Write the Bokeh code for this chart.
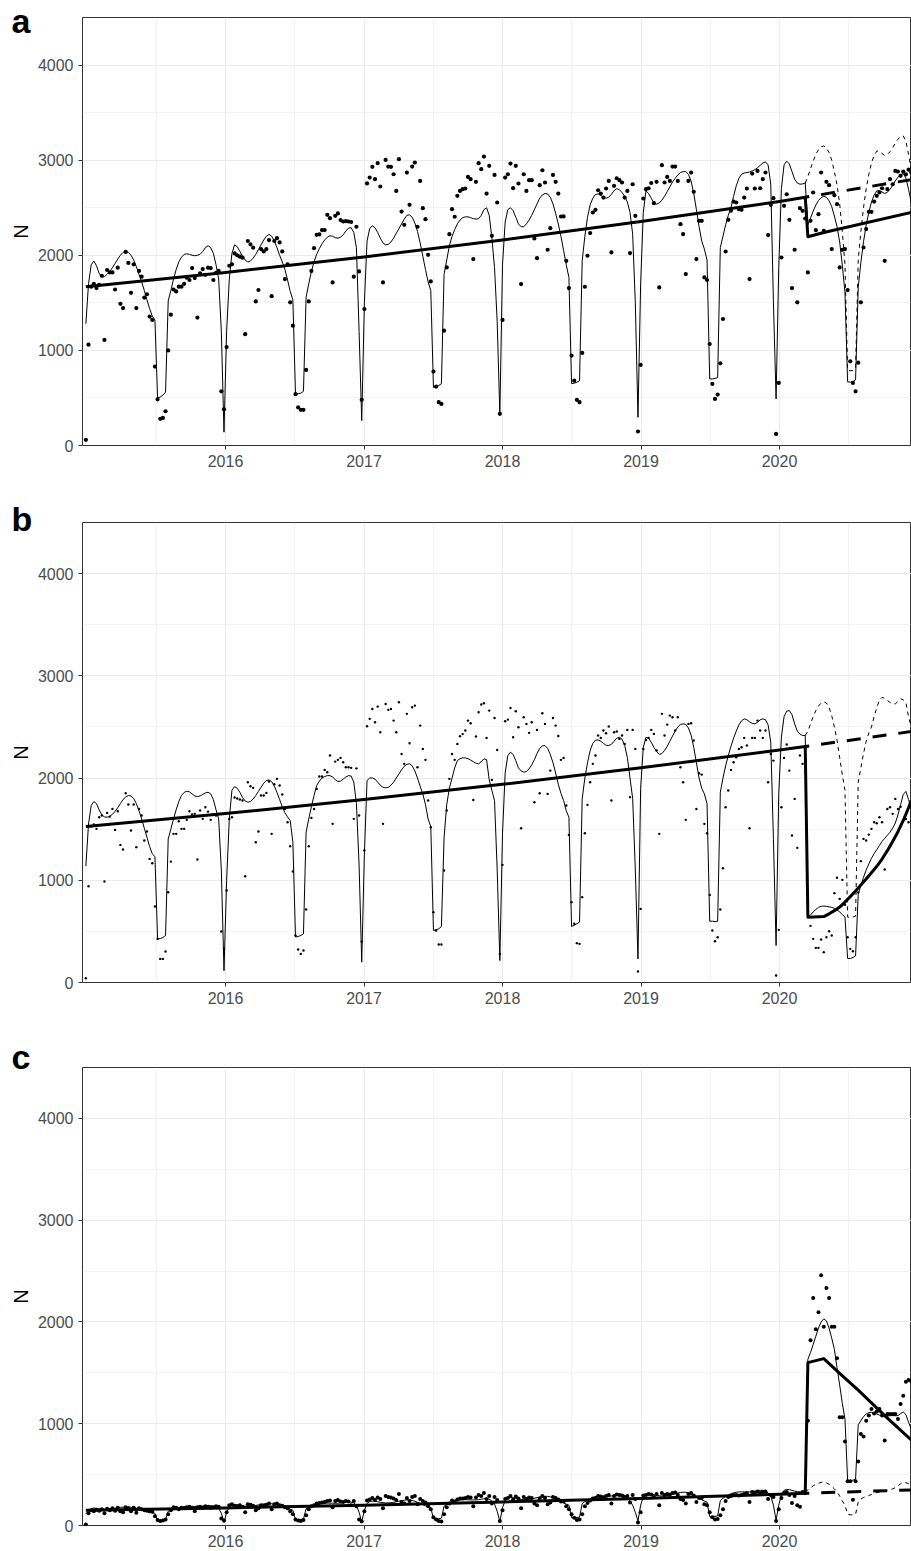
import numpy as np
import pandas as pd
from bokeh.plotting import figure
from bokeh.models import Range1d, FixedTicker, NumeralTickFormatter
from bokeh.layouts import column
from bokeh.embed import file_html
from bokeh.resources import INLINE

# ---------------- data ----------------
week_start = "2014-12-29"
n_weeks = 312
year_ticks = [2016, 2017, 2018, 2019, 2020]
year_minor = [2015.5, 2016.5, 2017.5, 2018.5, 2019.5, 2020.5]
n_ticks = [0, 1000, 2000, 3000, 4000]
n_minor = [500, 1500, 2500, 3500, 4500]

trend_pre_dates = ["2014-12-29", "2016-01-01", "2017-01-01", "2018-01-01",
                   "2019-01-01", "2020-01-01", "2020-03-09"]
a_post_dates = ["2020-03-16", "2020-04-27", "2020-12-14"]
b_post_dates = ["2020-03-16", "2020-04-27", "2020-05-11", "2020-05-25", "2020-06-08", "2020-06-22",
                "2020-07-06", "2020-07-20", "2020-08-03", "2020-08-17", "2020-08-31", "2020-09-14",
                "2020-09-28", "2020-10-12", "2020-10-26", "2020-11-09", "2020-11-23", "2020-12-07",
                "2020-12-14"]
c_post_dates = ["2020-03-16", "2020-04-27", "2020-06-08", "2020-07-27", "2020-10-05", "2020-12-14"]
cf_dates = ["2020-03-09", "2020-12-14"]

# ---- panel a ----
a_points = [
    # 2015
    60, 1060, 1670, 1700, 1655, 1690, 1785, 1110, 1845, 1820, 1820, 1640, 1870, 1490, 1445, 2035, 1920, 1605,
    1905, 1445, 1835, 1775, 1555, 1590, 1355, 1320, 830, 485, 280, 290, 360, 1000, 1375, 1640, 1620, 1670,
    1670, 1700, 1765, 1740, 1865, 1760, 1345, 1810, 1855, 1795, 1870, 1865, 1740, 1815, 1835, 570, 380,
    # 2016
    1035, 1890, 1905, 2020, 2000, 1985, 1975, 1170, 2150, 2115, 2080, 1515, 1635, 2065, 2040, 2065, 2160, 1570,
    2150, 2180, 2135, 2040, 1750, 1905, 1505, 1260, 540, 400, 375, 375, 795, 1515, 1835, 2075, 2215, 2220,
    2265, 2265, 2425, 2390, 1715, 2415, 2440, 2370, 2355, 2360, 2355, 2350, 1775, 2300, 1830, 480,
    # 2017
    1435, 2755, 2817, 2930, 2800, 2968, 2723, 1715, 3003, 2933, 2930, 2852, 2677, 3010, 2460, 2320, 2870, 2530,
    2933, 2975, 2300, 2782, 2495, 2380, 2005, 1725, 777, 620, 455, 437, 1207, 1872, 2222, 2485, 2405, 2625,
    2677, 2695, 2702, 2824, 2800, 1960, 2772, 2968, 2905, 3038, 2649, 2940, 2205, 2845, 2555, 333,
    # 2018
    1320, 2817, 2852, 2964, 2705, 2940, 2755, 1697, 2852, 2677, 2790, 2790, 2177, 1970, 2737, 2894, 2765, 2058,
    2285, 2845, 2772, 2649, 2408, 2408, 1942, 1655, 945, 682, 480, 455, 973, 1669, 1995, 2233, 2450, 2478,
    2684, 2649, 2607, 2702, 2782, 2030, 2730, 2810, 2790, 2765, 2607, 2677, 2023, 2747, 2415, 147,
    # 2019
    847, 2597, 2695, 2705, 2760, 2548, 2772, 1662, 2947, 2765, 2824, 2782, 2933, 2933, 2782, 2327, 2222, 1802,
    2782, 2870, 2667, 1960, 2362, 2362, 1767, 1740, 1067, 647, 490, 535, 864, 1330, 2040, 2373, 2468, 2565,
    2555, 2485, 2478, 2607, 2702, 1750, 2859, 2702, 2887, 2705, 2800, 2870, 2212, 2530, 2600, 122,
    # 2020
    658, 1977, 2520, 2642, 2373, 1655, 2058, 1505, 2495, 2467, 2387, 1820, 2362, 2660, 2264, 2432, 2870, 2257,
    2772, 2737, 2065, 2632, 2537, 1872, 2058, 2065, 1634, 885, 658, 570, 871, 1505, 2082, 2275, 2457, 2457,
    2565, 2625, 2660, 2705, 1942, 2695, 2800, 2747, 2887, 2880, 2835, 2880, 2850, 2900, 2870,
]
a_fit_pre = [
    1280, 1700, 1900, 1940, 1890, 1810, 1770, 1775, 1800, 1830, 1870, 1915, 1960, 2000, 2030, 2040, 2030, 2000,
    1950, 1880, 1800, 1720, 1630, 1530, 1440, 1360, 1320, 500, 510, 530, 560, 1520, 1630, 1750, 1850, 1930,
    1980, 2010, 2015, 2010, 2000, 1995, 2000, 2010, 2040, 2080, 2100, 2080, 2020, 1900, 1750, 1200, 140,
    1200, 1750, 2020, 2110, 2090, 2040, 1990, 1950, 1930, 1940, 1970, 2010, 2060, 2110, 2160, 2200, 2220, 2200,
    2150, 2080, 2000, 1930, 1850, 1740, 1620, 1530, 540, 545, 550, 570, 1560, 1700, 1830, 1930, 2010, 2070,
    2120, 2160, 2190, 2205, 2200, 2185, 2180, 2190, 2215, 2255, 2285, 2290, 2240, 2080, 1200, 262,
    1500, 2150, 2280, 2310, 2290, 2240, 2180, 2130, 2110, 2115, 2140, 2180, 2230, 2280, 2330, 2380, 2420, 2425,
    2400, 2340, 2250, 2130, 1990, 1850, 1720, 1630, 610, 620, 630, 650, 1800, 1950, 2100, 2200, 2270, 2330,
    2370, 2395, 2404, 2404, 2395, 2385, 2380, 2385, 2420, 2480, 2500, 2420, 2180, 1870, 1300, 330,
    1900, 2350, 2480, 2500, 2470, 2400, 2330, 2300, 2300, 2330, 2370, 2420, 2480, 2540, 2600, 2635, 2650, 2645,
    2610, 2540, 2440, 2330, 2200, 2050, 1900, 1767, 650, 655, 665, 680, 1942, 2200, 2400, 2530, 2600, 2640,
    2645, 2630, 2610, 2600, 2610, 2640, 2680, 2700, 2690, 2660, 2620, 2560, 2450, 2222, 1500, 297,
    1697, 2450, 2677, 2650, 2600, 2550, 2537, 2550, 2580, 2620, 2670, 2720, 2770, 2810, 2845, 2870, 2880, 2880,
    2850, 2780, 2650, 2480, 2300, 2150, 2065, 1950, 700, 700, 705, 715, 2082, 2200, 2320, 2420, 2502, 2620,
    2730, 2810, 2852, 2865, 2870, 2875, 2887, 2900, 2920, 2945, 2970, 2982, 2950, 2747, 1500, 490,
    1872, 2700, 2950, 2990, 2960, 2880, 2800, 2760, 2747, 2750, 2760,
]
a_fit_post = [
    2321, 2392, 2464, 2528, 2575, 2606, 2621, 2610, 2572, 2511, 2413, 2302, 2139, 1897, 1606, 669, 666, 672,
    690, 1663, 1924, 2143, 2317, 2451, 2560, 2632, 2677, 2680, 2665, 2650, 2662, 2694, 2732, 2783, 2821, 2850,
    2858, 2813, 2693, 2560,
]
a_fit_cf = [
    2760, 2830, 2910, 2990, 3060, 3110, 3140, 3150, 3130, 3080, 3000, 2880, 2740, 2540, 2250, 1900, 790, 785,
    790, 810, 1950, 2250, 2500, 2700, 2850, 2970, 3050, 3095, 3095, 3070, 3050, 3060, 3090, 3130, 3180, 3220,
    3250, 3255, 3200, 3060, 2900,
]
a_trend_pre = [1668, 1820, 1983, 2160, 2354, 2565, 2610]
a_trend_post = [2195, 2240, 2450]
a_trend_cf = [2610, 2795]

# ---- panel b ----
b_points = [
    42, 942, 1526, 1545, 1503, 1617, 1633, 988, 1659, 1623, 1698, 1493, 1676, 1346, 1301, 1852, 1741, 1487,
    1741, 1324, 1698, 1633, 1389, 1477, 1209, 1167, 743, 427, 231, 231, 303, 883, 1183, 1454, 1454, 1578,
    1503, 1503, 1591, 1676, 1643, 1650, 1203, 1682, 1601, 1715, 1672, 1591, 1643, 1633, 1650, 499, 329,
    900, 1600, 1617, 1810, 1800, 1790, 1780, 1040, 1959, 1920, 1904, 1372, 1477, 1829, 1829, 1855, 1966, 1454,
    1940, 1992, 1927, 1839, 1698, 1568, 1333, 1086, 460, 323, 280, 313, 714, 1333, 1610, 1698, 1894, 2015,
    2015, 2080, 2057, 2220, 1552, 2161, 2178, 2197, 2155, 2106, 2106, 2100, 1601, 2095, 1633, 400,
    1291, 2507, 2579, 2676, 2546, 2699, 2448, 1552, 2725, 2667, 2676, 2562, 2448, 2742, 2236, 2139, 2628, 2341,
    2693, 2709, 2106, 2513, 2285, 2178, 1780, 1519, 688, 509, 372, 372, 1095, 1682, 1992, 2236, 2178, 2334,
    2409, 2430, 2465, 2562, 2536, 1786, 2406, 2644, 2719, 2732, 2393, 2660, 1982, 2588, 2275, 280,
    1151, 2556, 2572, 2686, 2399, 2654, 2497, 1509, 2595, 2530, 2442, 2546, 1764, 2471, 1852, 2634, 2530, 1845,
    2073, 2588, 2513, 2412, 2178, 2197, 1731, 1444, 786, 574, 385, 378, 835, 1460, 1738, 1959, 2139, 2220,
    2416, 2393, 2465, 2439, 2504, 1780, 2448, 2455, 2383, 2416, 2334, 2471, 1813, 2471, 2285, 108,
    720, 2285, 2373, 2393, 2471, 2432, 2269, 1454, 2628, 2416, 2523, 2611, 2595, 2465, 2595, 2106, 1959, 1591,
    2530, 2536, 2367, 1698, 2047, 2034, 1552, 1460, 857, 509, 404, 443, 714, 1118, 1715, 1878, 2080, 2155,
    2204, 2285, 2302, 2393, 2318, 1509, 2393, 2393, 2562, 2465, 2393, 2465, 1959, 2236, 2171, 68,
    515, 1715, 2197, 2328, 2073, 1438, 1796, 1317, 2220, 2139, 2057, 790, 554, 427, 339, 339, 420, 297,
    443, 502, 460, 874, 1024, 818, 1004, 760, 443, 329, 306, 443, 880, 1187, 1405, 1389, 1447, 1503,
    1568, 1558, 1617, 1568, 1105, 1698, 1715, 1650, 1796, 1698, 1720, 1584, 1600, 1568, 1580,
]
b_fit_pre = [
    1138, 1550, 1730, 1770, 1750, 1690, 1640, 1620, 1617, 1625, 1645, 1675, 1710, 1750, 1790, 1815, 1829, 1825,
    1800, 1750, 1680, 1600, 1510, 1420, 1330, 1260, 1230, 425, 430, 440, 460, 1405, 1500, 1600, 1690, 1770,
    1830, 1860, 1871, 1865, 1845, 1825, 1819, 1825, 1840, 1855, 1861, 1845, 1790, 1690, 1600, 1100, 115,
    1000, 1600, 1880, 1917, 1900, 1860, 1810, 1775, 1764, 1770, 1795, 1830, 1870, 1910, 1950, 1975, 1982, 1965,
    1920, 1860, 1790, 1720, 1660, 1620, 1584, 1372, 445, 450, 460, 475, 1470, 1600, 1720, 1830, 1927, 1970,
    2000, 2015, 2024, 2024, 2010, 1985, 1966, 1970, 1990, 2010, 2024, 2020, 1960, 1750, 1150, 199,
    1258, 1976, 2000, 2002, 1990, 1960, 1930, 1910, 1904, 1910, 1930, 1960, 2000, 2040, 2080, 2115, 2135, 2139,
    2120, 2070, 2000, 1920, 1845, 1740, 1600, 1526, 509, 515, 525, 548, 1415, 1741, 1900, 2000, 2100, 2170,
    2190, 2197, 2197, 2190, 2175, 2160, 2145, 2139, 2160, 2188, 2180, 1982, 1880, 1780, 1100, 215,
    1454, 2050, 2220, 2253, 2230, 2170, 2100, 2070, 2057, 2065, 2090, 2130, 2180, 2240, 2290, 2315, 2318, 2290,
    2230, 2150, 2050, 1940, 1850, 1780, 1680, 1617, 548, 560, 575, 590, 1796, 2000, 2150, 2270, 2340, 2370,
    2373, 2360, 2340, 2320, 2318, 2330, 2360, 2390, 2399, 2380, 2320, 2200, 2000, 1800, 1100, 231,
    1900, 2300, 2399, 2390, 2350, 2300, 2260, 2232, 2240, 2270, 2310, 2360, 2410, 2460, 2500, 2525, 2530, 2525,
    2490, 2420, 2300, 2150, 2000, 1900, 1845, 1750, 600, 600, 595, 600, 1861, 2000, 2120, 2220, 2310, 2390,
    2460, 2520, 2560, 2579, 2570, 2550, 2535, 2530, 2545, 2570, 2579, 2570, 2520, 2350, 1400, 362,
    1845, 2400, 2600, 2655, 2660, 2620, 2530, 2460, 2430, 2416, 2416,
]
b_fit_post = [
    645, 660, 690, 715, 735, 745, 748, 745, 740, 735, 725, 710, 690, 665, 640, 235, 235, 245,
    260, 860, 950, 1030, 1100, 1160, 1215, 1260, 1300, 1340, 1380, 1410, 1440, 1470, 1510, 1560, 1640, 1740,
    1840, 1870, 1790, 1700,
]
b_fit_cf = [
    2416, 2460, 2530, 2600, 2660, 2705, 2735, 2745, 2735, 2690, 2610, 2500, 2370, 2200, 2030, 1880, 640, 635,
    640, 650, 1960, 2100, 2240, 2360, 2440, 2500, 2600, 2690, 2760, 2790, 2780, 2760, 2740, 2725, 2726, 2750,
    2775, 2765, 2741, 2600, 2500,
]
b_trend_pre = [1526, 1653, 1790, 1939, 2100, 2274, 2308]
b_trend_post = [639, 645, 672, 703, 738, 787, 840, 896, 953, 1012, 1074, 1137, 1208, 1290, 1380, 1475,
                1585, 1710, 1780]
b_trend_cf = [2308, 2455]

# ---- panel c ----
c_points = [
    10, 120, 150, 140, 155, 145, 160, 120, 165, 150, 170, 145, 175, 140, 130, 180, 170, 140,
    175, 125, 170, 160, 150, 145, 140, 135, 90, 55, 45, 50, 60, 110, 150, 180, 175, 160,
    175, 170, 180, 185, 175, 140, 180, 185, 175, 190, 185, 175, 180, 190, 185, 70, 50,
    130, 200, 210, 195, 190, 200, 185, 130, 210, 205, 195, 150, 170, 200, 195, 205, 215, 160,
    210, 215, 200, 195, 180, 170, 140, 110, 60, 50, 45, 55, 100, 160, 190, 200, 215, 220,
    225, 230, 240, 245, 180, 240, 250, 235, 230, 240, 235, 200, 240, 190, 60, 40,
    140, 245, 255, 270, 250, 275, 260, 170, 290, 280, 275, 265, 250, 310, 230, 215, 270, 240,
    280, 290, 210, 260, 240, 225, 190, 160, 80, 60, 45, 40, 110, 180, 215, 245, 235, 255,
    265, 265, 270, 280, 275, 190, 275, 300, 290, 320, 260, 290, 215, 280, 250, 45,
    150, 260, 270, 290, 255, 285, 265, 170, 280, 260, 275, 270, 215, 200, 265, 290, 270, 210,
    225, 280, 270, 255, 235, 235, 190, 160, 110, 75, 55, 60, 110, 190, 220, 245, 265, 270,
    290, 285, 275, 290, 300, 215, 290, 305, 300, 295, 280, 290, 225, 300, 260, 30,
    130, 295, 300, 310, 305, 280, 310, 200, 320, 300, 310, 305, 320, 325, 300, 260, 250, 215,
    310, 320, 295, 230, 270, 270, 210, 200, 130, 80, 60, 65, 100, 160, 240, 280, 290, 300,
    300, 295, 300, 310, 320, 230, 330, 320, 335, 320, 330, 335, 260, 300, 280, 45,
    160, 270, 320, 330, 300, 220, 290, 200, 185, 330, 320, 1030, 1819, 2236, 1927, 2096, 2458, 1953,
    2334, 2236, 1953, 1953, 1643, 1063, 1063, 825, 434, 434, 254, 434, 629, 900, 874, 1030, 1080, 1144,
    1100, 1120, 1144, 1080, 835, 1095, 1095, 1095, 1095, 1046, 1193, 1275, 1412, 1430, 1420,
]
c_fit_pre = [
    115, 145, 165, 172, 168, 162, 158, 158, 160, 163, 166, 170, 174, 178, 181, 182, 181, 179,
    175, 170, 163, 156, 148, 140, 132, 125, 120, 48, 49, 51, 54, 140, 150, 160, 170, 177,
    182, 185, 187, 187, 186, 186, 187, 188, 191, 195, 197, 195, 190, 182, 170, 120, 30,
    130, 180, 200, 205, 202, 197, 193, 190, 189, 190, 193, 197, 202, 207, 212, 215, 216, 214,
    209, 203, 196, 188, 180, 170, 160, 150, 57, 58, 60, 63, 165, 177, 189, 199, 207, 213,
    217, 219, 220, 220, 219, 218, 219, 221, 224, 228, 230, 229, 222, 200, 130, 35,
    150, 215, 235, 240, 238, 233, 228, 224, 222, 222, 224, 228, 233, 239, 245, 249, 251, 250,
    246, 238, 228, 217, 205, 194, 183, 175, 66, 67, 69, 72, 190, 205, 218, 230, 240, 247,
    251, 253, 254, 253, 252, 251, 252, 254, 258, 263, 265, 258, 240, 210, 140, 40,
    175, 245, 268, 275, 272, 266, 260, 256, 254, 255, 258, 262, 268, 274, 280, 285, 287, 286,
    281, 272, 260, 248, 235, 222, 210, 200, 76, 77, 79, 82, 215, 235, 250, 263, 274, 282,
    287, 289, 290, 289, 289, 290, 293, 297, 302, 303, 295, 275, 240, 200, 130, 45,
    200, 280, 305, 313, 310, 303, 296, 292, 290, 291, 294, 299, 305, 312, 319, 324, 327, 326,
    320, 310, 296, 282, 268, 253, 240, 230, 87, 88, 90, 94, 245, 268, 285, 300, 312, 321,
    327, 330, 331, 330, 329, 330, 334, 339, 344, 346, 345, 338, 320, 290, 200, 52,
    200, 300, 345, 355, 352, 345, 338, 333, 330, 330, 330,
]
c_fit_post = [
    1633, 1700, 1780, 1860, 1940, 2000, 2031, 2010, 1940, 1840, 1731, 1550, 1380, 1200, 1046, 443, 440, 445,
    455, 990, 1030, 1070, 1095, 1110, 1112, 1105, 1095, 1085, 1079, 1075, 1075, 1079, 1080, 1078, 1080, 1100,
    1115, 1090, 1014, 950,
]
c_fit_cf = [
    330, 350, 370, 390, 405, 415, 424, 427, 420, 405, 385, 360, 330, 290, 240, 200, 110, 105,
    105, 110, 230, 260, 275, 285, 295, 305, 315, 322, 329, 335, 340, 345, 352, 360, 372, 390,
    410, 427, 420, 411, 390,
]
c_trend_pre = [150, 173, 200, 231, 266, 308, 316]
c_trend_post = [1600, 1640, 1495, 1330, 1080, 840]
c_trend_cf = [316, 350]

# ---------------- helpers ----------------
def dec_year(d):
    d = pd.DatetimeIndex(pd.to_datetime(d))
    days = np.where(d.is_leap_year, 366.0, 365.0)
    return np.asarray(d.year + (d.dayofyear - 1) / days, dtype=float)

weeks = pd.date_range(week_start, periods=n_weeks, freq="7D")
xw = dec_year(weeks)
x_pre = dec_year(trend_pre_dates)
x_cf = dec_year(cf_dates)

FONT = "Liberation Sans"
X0, X1 = 2014.9675, 2020.953


def make_panel(letter, pts, fit_pre, fit_post, fit_cf, tr_pre, post_dates, tr_post, tr_cf,
               height, top, bottom, pt_size, title_standoff):
    p = figure(width=911, height=height, x_range=Range1d(X0, X1), y_range=Range1d(0, 4500),
               output_backend="svg", toolbar_location=None, title=letter,
               min_border_left=82, min_border_right=0, min_border_top=top, min_border_bottom=bottom)
    p.background_fill_color = "white"
    p.border_fill_color = "white"
    p.outline_line_color = "#333333"
    p.outline_line_width = 1

    # panel letter as the title, pulled down beside the panel's top-left corner
    p.title.text_font = FONT
    p.title.text_font_size = "34px"
    p.title.text_font_style = "bold"
    p.title.text_color = "black"
    p.title.align = "left"
    p.title.vertical_align = "bottom"
    p.title.offset = -71
    p.title.standoff = title_standoff

    p.xaxis.ticker = FixedTicker(ticks=year_ticks, minor_ticks=year_minor)
    p.yaxis.ticker = FixedTicker(ticks=n_ticks, minor_ticks=n_minor)
    p.xaxis.formatter = NumeralTickFormatter(format="0")
    p.yaxis.formatter = NumeralTickFormatter(format="0")
    for g in (p.xgrid, p.ygrid):
        g.grid_line_color = "#EBEBEB"
        g.grid_line_width = 1.1
        g.minor_grid_line_color = "#EBEBEB"
        g.minor_grid_line_width = 0.55
    for ax in (p.xaxis, p.yaxis):
        ax.axis_line_color = None
        ax.major_tick_out = 4
        ax.major_tick_in = 0
        ax.minor_tick_out = 0
        ax.minor_tick_in = 0
        ax.major_tick_line_color = "#333333"
        ax.major_tick_line_width = 1
        ax.major_label_text_font = FONT
        ax.major_label_text_font_size = "16px"
        ax.major_label_text_color = "#4D4D4D"
        ax.major_label_standoff = 5
    p.xaxis.major_label_standoff = 5
    p.yaxis.axis_label = "N"
    p.yaxis.axis_label_text_font = FONT
    p.yaxis.axis_label_text_font_size = "20px"
    p.yaxis.axis_label_text_font_style = "normal"
    p.yaxis.axis_label_text_color = "black"
    p.yaxis.axis_label_standoff = 3

    # observations
    p.scatter(xw[:len(pts)], pts, size=pt_size, fill_color="black", line_color=None)
    # seasonal fitted (thin)
    fit = list(fit_pre) + list(fit_post)
    p.line(xw[:len(fit)], fit, line_color="black", line_width=1, line_join="round")
    p.line(xw[271:271 + len(fit_cf)], fit_cf, line_color="black", line_width=1,
           line_dash="4 4", line_join="round")
    # trend (thick)
    tx = list(x_pre) + list(dec_year(post_dates))
    ty = list(tr_pre) + list(tr_post)
    p.line(tx, ty, line_color="black", line_width=3, line_join="round")
    p.line(x_cf, tr_cf, line_color="black", line_width=3, line_dash="14 12",
           line_dash_offset=10)
    return p


pa = make_panel("a", a_points, a_fit_pre, a_fit_post, a_fit_cf, a_trend_pre, a_post_dates,
                a_trend_post, a_trend_cf, 492, 17, 47, 4.2, -44)
pb = make_panel("b", b_points, b_fit_pre, b_fit_post, b_fit_cf, b_trend_pre, b_post_dates,
                b_trend_post, b_trend_cf, 538, 30, 48, 2.4, -30)
pc = make_panel("c", c_points, c_fit_pre, c_fit_post, c_fit_cf, c_trend_pre, c_post_dates,
                c_trend_post, c_trend_cf, 521, 37, 26, 4.0, -16)

layout = column(pa, pb, pc, spacing=0)
open("out.html", "w").write(file_html(layout, INLINE))
